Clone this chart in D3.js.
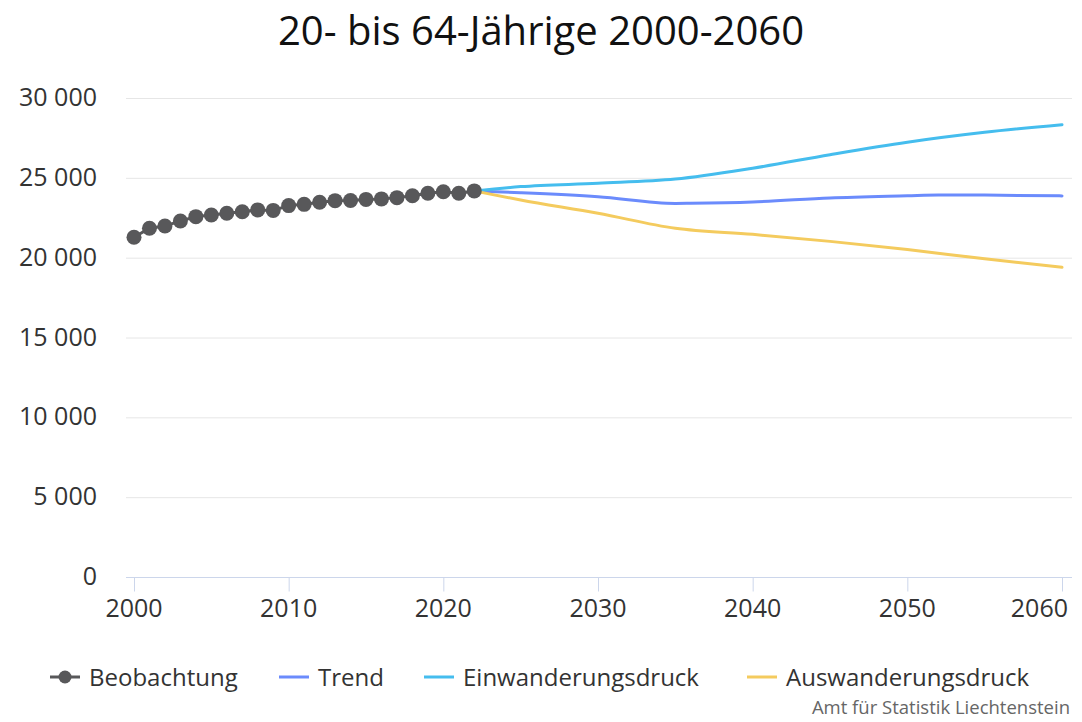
<!DOCTYPE html>
<html>
<head>
<meta charset="utf-8">
<script src="https://cdn.jsdelivr.net/npm/d3@7"></script>
<style>
  body { margin: 0; background: #fff; }
  text { font-family: "Open Sans", "Noto Sans", sans-serif; }
</style>
</head>
<body>
<script>
var width = 1082, height = 722;

// observed values 2000-2022
var obsYears = d3.range(2000, 2023);
var obsValues = [21280, 21840, 21980, 22300, 22570, 22670, 22780, 22880, 22990, 22960,
                 23260, 23340, 23470, 23570, 23580, 23650, 23680, 23760, 23880, 24030,
                 24130, 24030, 24180];

// scenario values
var trendYears = [2022, 2025, 2030, 2035, 2036, 2040, 2045, 2050, 2052, 2055, 2060];
var trendValues = [24180, 24070, 23820, 23400, 23410, 23490, 23740, 23880, 23930, 23920, 23870];

var einYears = [2022, 2025, 2030, 2035, 2040, 2045, 2050, 2055, 2060];
var einValues = [24180, 24450, 24660, 24920, 25600, 26450, 27230, 27850, 28330];

var ausYears = [2022, 2025, 2030, 2035, 2040, 2045, 2050, 2055, 2060];
var ausValues = [24180, 23610, 22780, 21840, 21460, 21020, 20510, 19930, 19400];

var yTicks = [0, 5000, 10000, 15000, 20000, 25000, 30000];
var xTicks = [2000, 2010, 2020, 2030, 2040, 2050, 2060];

var legendNames = ["Beobachtung", "Trend", "Einwanderungsdruck", "Auswanderungsdruck"];
var colors = ["#58585a", "#6b8bfc", "#45bdee", "#f4cb5e"];

var svg = d3.select("body").append("svg")
    .attr("width", width)
    .attr("height", height);

var x = d3.scaleLinear().domain([2000, 2060]).range([134, 1062]);
var y = d3.scaleLinear().domain([0, 30000]).range([577, 98]);

// title
svg.append("text")
    .attr("x", 541)
    .attr("y", 45)
    .attr("text-anchor", "middle")
    .style("font-size", "40px")
    .style("fill", "#111")
    .text("20- bis 64-Jährige 2000-2060");

// grid
svg.append("g")
    .selectAll("line")
    .data(yTicks.filter(function (d) { return d > 0; }))
    .enter()
    .append("line")
    .attr("x1", 126)
    .attr("x2", 1072)
    .attr("y1", function (d) { return y(d) + 0.5; })
    .attr("y2", function (d) { return y(d) + 0.5; })
    .style("stroke", "#e6e6e6")
    .style("stroke-width", 1);

// y labels
var fmt = function (d) { return d3.format(",")(d).replace(/,/g, " "); };
svg.append("g")
    .selectAll("text")
    .data(yTicks)
    .enter()
    .append("text")
    .attr("x", 97)
    .attr("y", function (d) { return y(d) + 8; })
    .attr("text-anchor", "end")
    .style("font-size", "25px")
    .style("fill", "#333")
    .text(fmt);

// x axis
var xAxis = svg.append("g")
    .attr("transform", "translate(0," + 577.5 + ")");
xAxis.append("line")
    .attr("x1", 126).attr("x2", 1072)
    .style("stroke", "#ccd6eb").style("stroke-width", 1);
xAxis.selectAll(".tick")
    .data(xTicks)
    .enter()
    .append("line")
    .attr("x1", function (d) { return x(d) + 0.5; })
    .attr("x2", function (d) { return x(d) + 0.5; })
    .attr("y1", 0).attr("y2", 14)
    .style("stroke", "#ccd6eb");
xAxis.selectAll("text")
    .data(xTicks)
    .enter()
    .append("text")
    .attr("x", function (d, i) { return i === xTicks.length - 1 ? 1068 : x(d); })
    .attr("y", 39.5)
    .attr("text-anchor", function (d, i) { return i === xTicks.length - 1 ? "end" : "middle"; })
    .style("font-size", "25px")
    .style("fill", "#333")
    .text(function (d) { return d; });

var line = d3.line()
    .x(function (d) { return x(d[0]); })
    .y(function (d) { return y(d[1]); })
    .curve(d3.curveMonotoneX);

function zip(a, b) { return a.map(function (v, i) { return [v, b[i]]; }); }

var series = [
    { years: trendYears, values: trendValues, color: colors[1] },
    { years: einYears, values: einValues, color: colors[2] },
    { years: ausYears, values: ausValues, color: colors[3] }
];

svg.append("g")
    .selectAll("path")
    .data(series)
    .enter()
    .append("path")
    .attr("d", function (d) { return line(zip(d.years, d.values)); })
    .style("fill", "none")
    .style("stroke", function (d) { return d.color; })
    .style("stroke-width", 3)
    .style("stroke-linejoin", "round")
    .style("stroke-linecap", "round");

// observation
var obs = zip(obsYears, obsValues);
svg.append("path")
    .attr("d", d3.line().x(function (d) { return x(d[0]); }).y(function (d) { return y(d[1]); })(obs))
    .style("fill", "none")
    .style("stroke", colors[0])
    .style("stroke-width", 3);
svg.append("g")
    .selectAll("circle")
    .data(obs)
    .enter()
    .append("circle")
    .attr("cx", function (d) { return x(d[0]); })
    .attr("cy", function (d) { return y(d[1]); })
    .attr("r", 7.5)
    .style("fill", colors[0]);

// legend
var legendX = [50, 279, 424, 747];
var leg = svg.append("g")
    .selectAll("g")
    .data(legendNames)
    .enter()
    .append("g")
    .attr("transform", function (d, i) { return "translate(" + legendX[i] + ",677)"; });
leg.append("line")
    .attr("x1", 0).attr("x2", 30)
    .style("stroke", function (d, i) { return colors[i]; })
    .style("stroke-width", 3);
leg.filter(function (d, i) { return i === 0; })
    .append("circle")
    .attr("cx", 15).attr("cy", 0).attr("r", 6.5)
    .style("fill", colors[0]);
leg.append("text")
    .attr("x", 39)
    .attr("y", 9)
    .style("font-size", "24px")
    .style("fill", "#333")
    .text(function (d) { return d; });

// credit
svg.append("text")
    .attr("x", 1070)
    .attr("y", 714)
    .attr("text-anchor", "end")
    .style("font-size", "18.5px")
    .style("fill", "#666")
    .text("Amt für Statistik Liechtenstein");
</script>
</body>
</html>
